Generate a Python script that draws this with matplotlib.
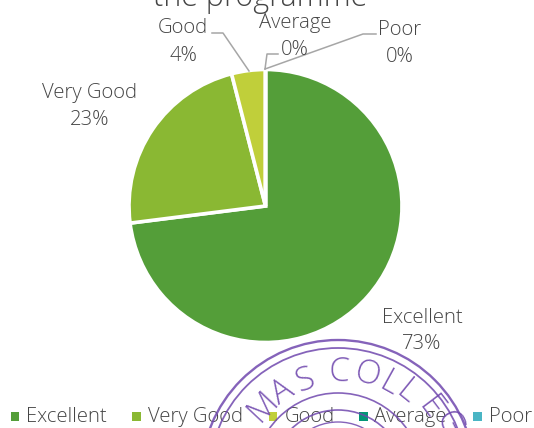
import numpy as np
import matplotlib
matplotlib.use('Agg')
import matplotlib.pyplot as plt
from matplotlib.patches import Circle, Rectangle

plt.rcParams['font.family'] = ['Open Sans', 'DejaVu Sans']

categories = ['Excellent', 'Very Good', 'Good', 'Average', 'Poor']
values = [73, 23, 4, 0, 0]
pct_labels = ['73%', '23%', '4%', '0%', '0%']
colors = ['#549e39', '#8ab833', '#c0cf3a', '#029676', '#4ab5c4']
title = 'the programme'
stamp_letters = 'MASCOLLEG'
stamp_angles = [-47, -33, -19, 1, 16, 29, 39, 53, 64]
stamp_radii = [103, 101, 102, 105, 106, 106, 109, 115, 122]
text_col = '#454545'
stamp_col = '#7048ae'

W, H = 534, 428
fig = plt.figure(figsize=(W / 100, H / 100), dpi=100)

# overlay in pixel coords for labels, legend, stamp
ov = fig.add_axes([0, 0, 1, 1])
ov.set_xlim(0, W)
ov.set_ylim(H, 0)
ov.axis('off')

# pie
cx, cy, r = 265.5, 206, 136.5
ax = fig.add_axes([(cx - r) / W, 1 - (cy + r) / H, 2 * r / W, 2 * r / H])
ax.pie(values, colors=colors, startangle=90, counterclock=False, radius=1,
       wedgeprops=dict(edgecolor='white', linewidth=2.6))
ax.set_xlim(-1, 1)
ax.set_ylim(-1, 1)

ov.set_zorder(2)
ax.set_zorder(1)
ov.patch.set_alpha(0)

ov.text(260, 5.5, title, fontsize=22, color=text_col, ha='center', va='baseline',
        fontweight='light', clip_on=True)

# data labels
label_pos = [(422, 318, 344), (90, 93, 120), (183, 28, 56), (295, 23, 50), (400, 30, 57)]
for name, pct, (x, y1, y2) in zip(categories, pct_labels, label_pos):
    ov.text(x, y1, name, fontsize=14.6, color=text_col, ha='center', va='center', fontweight='light')
    ov.text(x, y2, pct, fontsize=14.6, color=text_col, ha='center', va='center', fontweight='light')

# leader lines
ov.plot([212, 223, 249], [33, 33, 71], color='#a6a6a6', lw=1.1)
ov.plot([278, 267, 265], [54, 54, 69], color='#a6a6a6', lw=1.1)
ov.plot([376, 363, 265], [34, 34, 69], color='#a6a6a6', lw=1.1)

# legend
leg_sq = [10.7, 132.3, 268.7, 359, 473]
leg_txt = [26.5, 148, 285, 374, 489]
for name, col, x, xt in zip(categories, colors, leg_sq, leg_txt):
    ov.add_patch(Rectangle((x, 412), 8.5, 8.5, facecolor=col, edgecolor='none'))
    ov.text(xt, 417, name, fontsize=14.6, color=text_col, ha='left', va='center', fontweight='light')

# stamp
sx, sy = 338, 477
for rad, lw in [(137, 1.7), (129, 1.3), (84, 1.2), (67, 1.2), (55, 1.0)]:
    ov.add_patch(Circle((sx, sy), rad, fill=False, edgecolor=stamp_col, lw=lw, alpha=0.85, zorder=5))
for ch, a, rad in zip(stamp_letters, stamp_angles, stamp_radii):
    t = np.deg2rad(a)
    ov.text(sx + rad * np.sin(t), sy - rad * np.cos(t), ch, rotation=-a, fontsize=24,
            color=stamp_col, ha='center', va='center', alpha=0.9, fontweight='light',
            rotation_mode='anchor', zorder=5, clip_on=True)

fig.savefig('out.png', dpi=100)
